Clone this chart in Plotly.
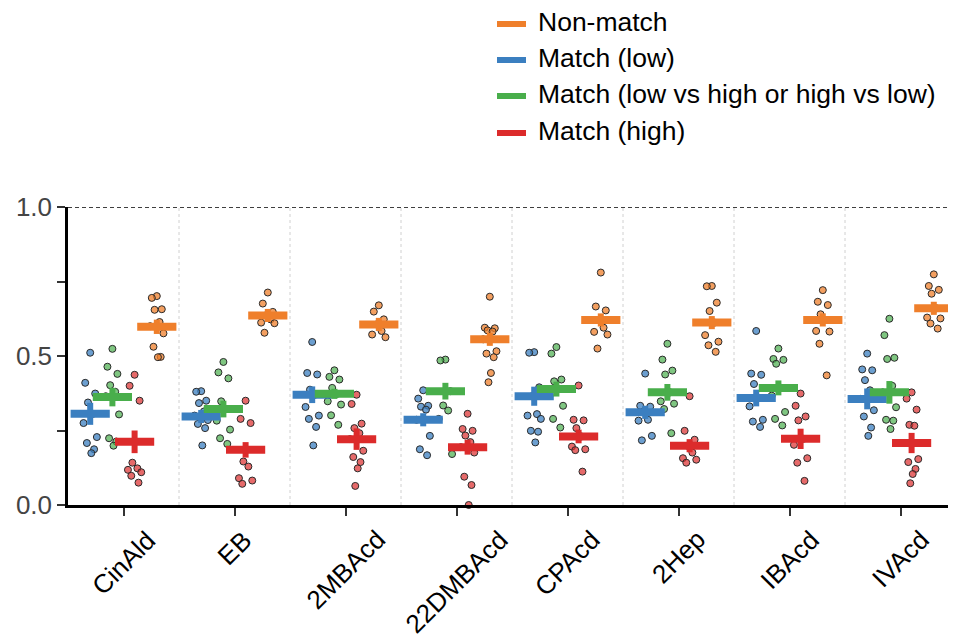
import plotly.graph_objects as go

categories = ["CinAld", "EB", "2MBAcd", "22DMBAcd", "CPAcd", "2Hep", "IBAcd", "IVAcd"]

# individual points (one sublist per category)
low_pts = [
    [0.511, 0.410, 0.374, 0.344, 0.306, 0.275, 0.228, 0.208, 0.187, 0.174],
    [0.382, 0.380, 0.350, 0.342, 0.314, 0.300, 0.285, 0.272, 0.258, 0.200],
    [0.547, 0.443, 0.438, 0.387, 0.370, 0.329, 0.300, 0.289, 0.262, 0.200],
    [0.385, 0.357, 0.333, 0.330, 0.320, 0.286, 0.232, 0.187, 0.167],
    [0.513, 0.511, 0.395, 0.365, 0.305, 0.300, 0.289, 0.249, 0.246, 0.210],
    [0.441, 0.333, 0.330, 0.311, 0.286, 0.283, 0.232, 0.217],
    [0.584, 0.441, 0.437, 0.406, 0.359, 0.331, 0.286, 0.280, 0.262],
    [0.508, 0.455, 0.452, 0.419, 0.385, 0.356, 0.318, 0.297, 0.260, 0.232],
]
mid_pts = [
    [0.524, 0.464, 0.440, 0.402, 0.380, 0.365, 0.304, 0.224, 0.213, 0.199],
    [0.480, 0.445, 0.425, 0.348, 0.322, 0.283, 0.253, 0.224, 0.205],
    [0.452, 0.430, 0.421, 0.393, 0.373, 0.348, 0.337, 0.301, 0.269],
    [0.488, 0.485, 0.382, 0.334, 0.317, 0.289, 0.171],
    [0.530, 0.508, 0.421, 0.415, 0.389, 0.368, 0.333, 0.289, 0.260],
    [0.541, 0.488, 0.451, 0.438, 0.378, 0.348, 0.340, 0.322, 0.241],
    [0.525, 0.490, 0.487, 0.474, 0.393, 0.367, 0.312, 0.289, 0.267],
    [0.625, 0.570, 0.494, 0.490, 0.400, 0.378, 0.328, 0.286, 0.283, 0.255],
]
high_pts = [
    [0.437, 0.400, 0.350, 0.142, 0.123, 0.118, 0.110, 0.098, 0.075],
    [0.350, 0.289, 0.275, 0.146, 0.129, 0.090, 0.082, 0.071],
    [0.370, 0.339, 0.273, 0.258, 0.241, 0.221, 0.182, 0.161, 0.144, 0.123, 0.064],
    [0.306, 0.255, 0.249, 0.233, 0.211, 0.194, 0.176, 0.095, 0.067, 0.000],
    [0.401, 0.286, 0.284, 0.258, 0.230, 0.196, 0.187, 0.184, 0.112],
    [0.365, 0.249, 0.219, 0.199, 0.176, 0.157, 0.152, 0.142],
    [0.374, 0.333, 0.297, 0.284, 0.222, 0.202, 0.157, 0.142, 0.081],
    [0.378, 0.357, 0.320, 0.269, 0.266, 0.208, 0.154, 0.144, 0.121, 0.104, 0.073],
]
non_pts = [
    [0.701, 0.695, 0.657, 0.655, 0.614, 0.600, 0.576, 0.531, 0.497, 0.496],
    [0.713, 0.676, 0.648, 0.636, 0.623, 0.612, 0.610, 0.578],
    [0.670, 0.649, 0.623, 0.606, 0.584, 0.572, 0.563],
    [0.699, 0.595, 0.593, 0.586, 0.582, 0.556, 0.516, 0.508, 0.496, 0.443, 0.412],
    [0.780, 0.666, 0.653, 0.621, 0.595, 0.581, 0.572, 0.525],
    [0.735, 0.734, 0.679, 0.651, 0.612, 0.570, 0.548, 0.536, 0.514],
    [0.721, 0.682, 0.671, 0.640, 0.621, 0.584, 0.582, 0.541, 0.435],
    [0.774, 0.735, 0.722, 0.709, 0.660, 0.629, 0.626, 0.609, 0.592],
]

# means and SEM per category
mean_low = [0.306, 0.297, 0.370, 0.286, 0.365, 0.311, 0.359, 0.356]
sem_low = [0.037, 0.022, 0.028, 0.022, 0.032, 0.022, 0.028, 0.035]
mean_mid = [0.362, 0.322, 0.373, 0.382, 0.389, 0.378, 0.393, 0.378]
sem_mid = [0.031, 0.028, 0.017, 0.028, 0.025, 0.028, 0.025, 0.038]
mean_high = [0.212, 0.185, 0.221, 0.194, 0.230, 0.199, 0.222, 0.208]
sem_high = [0.038, 0.026, 0.036, 0.025, 0.023, 0.022, 0.034, 0.034]
mean_non = [0.598, 0.636, 0.606, 0.556, 0.621, 0.612, 0.621, 0.660]
sem_non = [0.024, 0.022, 0.022, 0.022, 0.022, 0.022, 0.022, 0.022]

series = [
    # name, points, means, sems, colour, fill, offset
    ("Match (low)", low_pts, mean_low, sem_low, "#3b7fc0", "rgba(59,127,192,0.75)", -0.3),
    ("Match (low vs high or high vs low)", mid_pts, mean_mid, sem_mid, "#49ae4b", "rgba(73,174,75,0.7)", -0.1),
    ("Match (high)", high_pts, mean_high, sem_high, "#dc2b2b", "rgba(220,43,43,0.7)", 0.1),
    ("Non-match", non_pts, mean_non, sem_non, "#ef7f2b", "rgba(239,127,43,0.75)", 0.3),
]
legend_order = ["Non-match", "Match (low)", "Match (low vs high or high vs low)", "Match (high)"]

jitter = [0.0, -0.045, 0.045, -0.02, 0.025, -0.06, 0.06, -0.03, 0.035, 0.01, -0.012]

# page geometry: the html body adds an 8px offset, so the figure is drawn 8px smaller
OFF = 8
W, H = 956 - OFF, 638 - OFF
PL, PR, PT, PB = 68 - OFF, 956 - OFF, 207 - OFF, 505 - OFF   # plot area in figure px
def px_x(px):   # page px -> paper x
    return (px - OFF - PL) / (PR - PL)
def px_y(py):   # page px -> paper y
    return (PB - (py - OFF)) / (PB - PT)

fig = go.Figure()

for name, pts, means, sems, col, fill, off in series:
    xs, ys = [], []
    for i, vals in enumerate(pts):
        for k, v in enumerate(vals):
            xs.append(i + off + jitter[k % len(jitter)])
            ys.append(v)
    fig.add_trace(go.Scatter(
        x=xs, y=ys, mode="markers", showlegend=False, hoverinfo="skip",
        marker=dict(size=7, color=fill, line=dict(color="#2a2a2a", width=1)),
        cliponaxis=False,
    ))

for name, pts, means, sems, col, fill, off in series:
    fig.add_trace(go.Scatter(
        x=[i + off for i in range(len(categories))], y=means, mode="markers",
        showlegend=False, hoverinfo="skip",
        marker=dict(symbol="line-ew", size=28, color=col, line=dict(color=col, width=8)),
        error_y=dict(type="data", array=sems, visible=True, color=col, thickness=6, width=0),
    ))

colmap = {s[0]: s[4] for s in series}

shapes = []
for i in range(len(categories) - 1):
    shapes.append(dict(type="line", xref="x", yref="y", x0=i + 0.5, x1=i + 0.5, y0=0, y1=1,
                       line=dict(color="#d0d0d0", width=1, dash="dot"), layer="below"))
shapes.append(dict(type="line", xref="paper", yref="y", x0=0, x1=1, y0=1, y1=1,
                   line=dict(color="black", width=1.3, dash="4px,3px")))

annotations = []
# legend (swatch + label)
legend_rows = [24, 60, 96, 133]
for name, row in zip(legend_order, legend_rows):
    shapes.append(dict(type="line", xref="paper", yref="paper",
                       x0=px_x(497), x1=px_x(526), y0=px_y(row), y1=px_y(row),
                       line=dict(color=colmap[name], width=6)))
    annotations.append(dict(text=name, xref="paper", yref="paper", x=px_x(536), y=px_y(row - 2),
                            xanchor="left", yanchor="middle", showarrow=False,
                            font=dict(size=26.5, color="black")))

# category labels, rotated 45 degrees and centred under each tick
for i, c in enumerate(categories):
    annotations.append(dict(text=c, xref="x", yref="paper", x=i, y=px_y(522),
                            xanchor="center", yanchor="top", textangle=-45, showarrow=False,
                            font=dict(size=26, color="black")))

fig.update_layout(
    width=W, height=H,
    margin=dict(l=PL, r=W - PR, t=PT, b=H - PB, pad=0),
    plot_bgcolor="white", paper_bgcolor="white",
    font=dict(family="Liberation Sans, Arial, sans-serif", size=26, color="black"),
    shapes=shapes,
    annotations=annotations,
    showlegend=False,
    xaxis=dict(range=[-0.5, 7.5], tickmode="array", tickvals=list(range(len(categories))),
               showticklabels=False, ticks="outside", ticklen=8, tickwidth=1.5,
               tickcolor="#333", showline=True, linecolor="black", linewidth=2.5,
               showgrid=False, zeroline=False, automargin=False),
    yaxis=dict(range=[0, 1], tickmode="array", tickvals=[0, 0.25, 0.5, 0.75, 1.0],
               ticktext=["0.0", "", "0.5", "", "1.0"], ticks="outside", ticklen=8, tickwidth=1.5,
               tickcolor="#333", showline=True, linecolor="black", linewidth=2.5,
               showgrid=False, zeroline=False, automargin=False,
               tickfont=dict(size=26, color="#444")),
)

fig.write_html("out.html")
